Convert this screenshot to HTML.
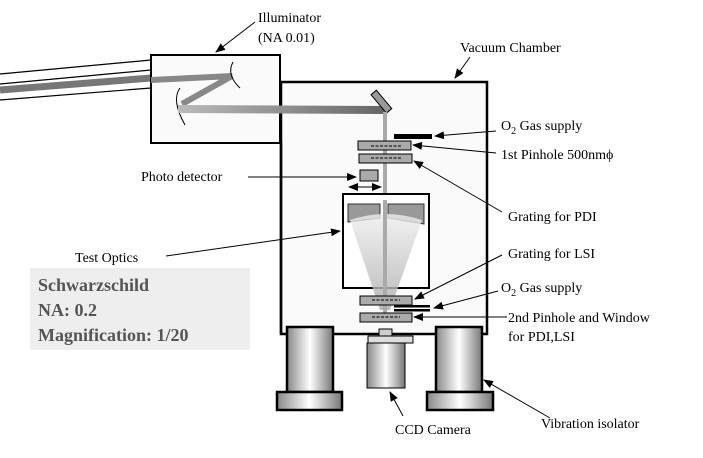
<!DOCTYPE html>
<html><head><style>body{margin:0;background:#fff}svg{display:block}text{font-family:"Liberation Serif",serif;font-size:14px;fill:#000}</style></head><body>
<svg width="703" height="458" viewBox="0 0 703 458" xmlns="http://www.w3.org/2000/svg">
<defs>
<marker id="a" markerWidth="10" markerHeight="8" refX="9" refY="4" orient="auto-start-reverse" markerUnits="userSpaceOnUse"><path d="M0,0L10,4L0,8z" fill="#000"/></marker>
<linearGradient id="cyl" x1="0" x2="1"><stop offset="0" stop-color="#888"/><stop offset=".5" stop-color="#fff"/><stop offset="1" stop-color="#777"/></linearGradient>
<linearGradient id="beam" x1="0" x2="1"><stop offset="0" stop-color="#bbb"/><stop offset="1" stop-color="#666"/></linearGradient>
<linearGradient id="cone" x1="0" y1="1" x2="0" y2="0"><stop offset="0" stop-color="#aaa"/><stop offset="1" stop-color="#eee"/></linearGradient>
</defs>
<path d="M0,74L151,60M0,84L151,70M0,100L151,88" stroke="#000" stroke-width="1.2"/>
<path d="M0,90L151,78" stroke="#777" stroke-width="7"/>
<rect x="151" y="55" width="129" height="88" fill="#fafafa" stroke="#000" stroke-width="2"/>
<rect x="281" y="82" width="206" height="252" fill="#fafafa" stroke="#000" stroke-width="2.5"/>
<rect x="152" y="56" width="128" height="86" fill="#fafafa"/>
<line x1="280" y1="56" x2="280" y2="142" stroke="#000" stroke-width="2"/>
<line x1="281" y1="142" x2="281" y2="334" stroke="#000" stroke-width="2.5"/>
<path d="M151,80L232,76L182,104" stroke="#888" stroke-width="6" fill="none"/>
<path d="M233,62Q226,75 240,88M180,88Q171,100 185,125" stroke="#000" fill="none"/>
<path d="M178,105L384,106L384,114L178,113z" fill="url(#beam)"/>
<rect x="378" y="90" width="7" height="24" fill="#999" stroke="#000" transform="rotate(-40 381 102)"/>
<rect x="383" y="112" width="4" height="210" fill="#aaa"/>
<rect x="343" y="194" width="86" height="94" fill="#fff" stroke="#000" stroke-width="2"/>
<path d="M348,204h32v14l-32,4z M388,204h36v20l-36,-6z" fill="#999" stroke="#333"/>
<path d="M350,220Q385,208 422,220L390,310L380,310z" fill="url(#cone)" opacity=".8"/>
<rect x="383" y="200" width="4" height="120" fill="#aaa"/>
<g stroke="#000" fill="#aaa"><rect x="358" y="141" width="53" height="9"/><rect x="359" y="154" width="53" height="9"/><rect x="360" y="296" width="52" height="9"/><rect x="360" y="313" width="52" height="9"/>
<rect x="360" y="170" width="18" height="11"/><rect x="379" y="329" width="13" height="7" fill="#ccc"/></g>
<rect x="394" y="134" width="38" height="5" fill="#000"/><rect x="394" y="305" width="36" height="2.5" fill="#000"/><rect x="394" y="309" width="36" height="2.5" fill="#000"/>
<path d="M371,146h30M371,158h30M372,300h28M372,317h28" stroke="#000" stroke-dasharray="3,1.5"/>
<line x1="349" y1="187" x2="381" y2="187" stroke="#000" marker-end="url(#a)" marker-start="url(#a)"/>
<rect x="368" y="336" width="45" height="7" fill="#ddd" stroke="#000"/>
<rect x="367" y="343" width="38" height="45" fill="url(#cyl)" stroke="#000"/>
<g stroke="#000" stroke-width="2.5" fill="url(#cyl)"><rect x="287" y="327" width="46" height="65"/><rect x="277" y="392" width="65" height="18"/><rect x="436" y="327" width="46" height="65"/><rect x="427" y="392" width="66" height="18"/></g>
<rect x="30" y="268" width="220" height="82" fill="#eee"/>
<text x="38" y="291" style="font-weight:bold;font-size:18px;fill:#555">Schwarzschild</text><text x="38" y="316" style="font-weight:bold;font-size:18px;fill:#555">NA: 0.2</text><text x="38" y="341" style="font-weight:bold;font-size:18px;fill:#555">Magnification: 1/20</text>
<text x="258" y="22">Illuminator</text><text x="258" y="42">(NA 0.01)</text>
<line x1="255" y1="22" x2="216" y2="52" stroke="#000" marker-end="url(#a)"/>
<text x="460" y="52">Vacuum  Chamber</text>
<line x1="470" y1="57" x2="455" y2="78" stroke="#000" marker-end="url(#a)"/>
<text x="501" y="130">O<tspan dy="4" font-size="10">2</tspan><tspan dy="-4"> Gas supply</tspan></text>
<line x1="496" y1="131" x2="435" y2="136" stroke="#000" marker-end="url(#a)"/>
<text x="501" y="159">1st Pinhole 500nmϕ</text>
<line x1="496" y1="153" x2="413" y2="145" stroke="#000" marker-end="url(#a)"/>
<text x="141" y="181">Photo detector</text>
<line x1="248" y1="177" x2="356" y2="177" stroke="#000" marker-end="url(#a)"/>
<text x="508" y="221">Grating for PDI</text>
<line x1="502" y1="212" x2="414" y2="161" stroke="#000" marker-end="url(#a)"/>
<text x="75" y="262">Test Optics</text>
<line x1="166" y1="256" x2="340" y2="231" stroke="#000" marker-end="url(#a)"/>
<text x="508" y="258">Grating for LSI</text>
<line x1="502" y1="255" x2="415" y2="299" stroke="#000" marker-end="url(#a)"/>
<text x="501" y="292">O<tspan dy="4" font-size="10">2</tspan><tspan dy="-4"> Gas supply</tspan></text>
<line x1="498" y1="291" x2="434" y2="308" stroke="#000" marker-end="url(#a)"/>
<text x="508" y="322">2nd Pinhole and Window</text><text x="508" y="341">for PDI,LSI</text>
<line x1="507" y1="317" x2="414" y2="317" stroke="#000" marker-end="url(#a)"/>
<text x="395" y="434">CCD Camera</text>
<line x1="403" y1="416" x2="390" y2="392" stroke="#000" marker-end="url(#a)"/>
<text x="541" y="428">Vibration isolator</text>
<line x1="550" y1="418" x2="484" y2="380" stroke="#000" marker-end="url(#a)"/>
</svg>
</body></html>
